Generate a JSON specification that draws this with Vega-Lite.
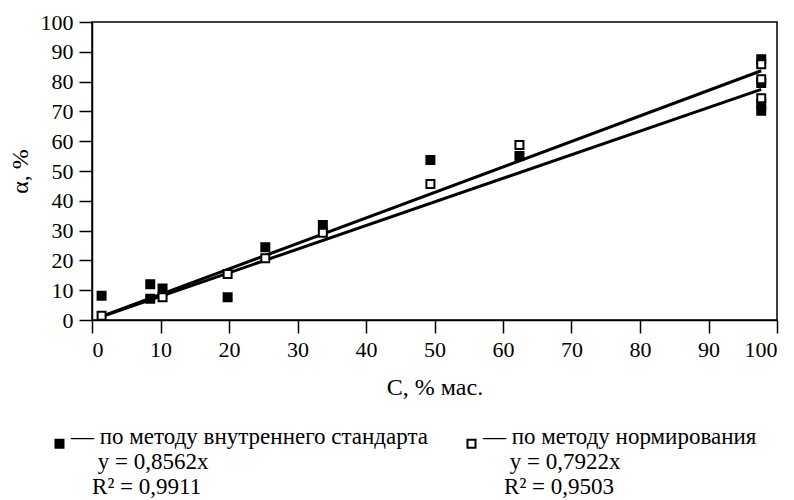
{
  "$schema": "https://vega.github.io/schema/vega-lite/v6.json",
  "width": 685,
  "height": 298,
  "autosize": {"type": "none"},
  "padding": {"left": 92, "top": 22, "right": 17, "bottom": 180},
  "background": "white",
  "config": {
    "font": "Liberation Serif",
    "view": {"stroke": "black", "strokeWidth": 1.5},
    "axis": {
      "domainColor": "black", "domainWidth": 1.5,
      "tickColor": "black", "tickWidth": 1.5, "tickSize": 13,
      "labelFont": "Liberation Serif", "labelFontSize": 22, "labelColor": "black", "labelPadding": 6,
      "labelOverlap": false,
      "grid": false,
      "titleFont": "Liberation Serif", "titleFontSize": 24, "titleFontWeight": "normal", "titleColor": "black"
    }
  },
  "datasets": {
    "points": [
      {"series": "по методу внутреннего стандарта", "C": 1.4, "alpha": 8.1},
      {"series": "по методу внутреннего стандарта", "C": 8.5, "alpha": 12.0},
      {"series": "по методу внутреннего стандарта", "C": 8.5, "alpha": 7.1},
      {"series": "по методу внутреннего стандарта", "C": 10.3, "alpha": 10.6},
      {"series": "по методу внутреннего стандарта", "C": 19.8, "alpha": 7.6},
      {"series": "по методу внутреннего стандарта", "C": 25.3, "alpha": 24.4},
      {"series": "по методу внутреннего стандарта", "C": 33.7, "alpha": 31.9},
      {"series": "по методу внутреннего стандарта", "C": 49.4, "alpha": 53.7},
      {"series": "по методу внутреннего стандарта", "C": 62.4, "alpha": 55.0},
      {"series": "по методу внутреннего стандарта", "C": 97.7, "alpha": 87.5},
      {"series": "по методу внутреннего стандарта", "C": 97.7, "alpha": 79.5},
      {"series": "по методу внутреннего стандарта", "C": 97.7, "alpha": 72.5},
      {"series": "по методу внутреннего стандарта", "C": 97.7, "alpha": 70.2},
      {"series": "по методу нормирования", "C": 1.4, "alpha": 1.4},
      {"series": "по методу нормирования", "C": 10.3, "alpha": 7.6},
      {"series": "по методу нормирования", "C": 19.8, "alpha": 15.4},
      {"series": "по методу нормирования", "C": 25.3, "alpha": 20.7},
      {"series": "по методу нормирования", "C": 33.7, "alpha": 29.3},
      {"series": "по методу нормирования", "C": 49.4, "alpha": 45.6},
      {"series": "по методу нормирования", "C": 62.4, "alpha": 58.7},
      {"series": "по методу нормирования", "C": 97.7, "alpha": 85.8},
      {"series": "по методу нормирования", "C": 97.7, "alpha": 80.8},
      {"series": "по методу нормирования", "C": 97.7, "alpha": 74.4}
    ],
    "lines": [
      {"series": "по методу внутреннего стандарта", "C": 1.2, "alpha": 1.03},
      {"series": "по методу внутреннего стандарта", "C": 97.7, "alpha": 83.65},
      {"series": "по методу нормирования", "C": 1.2, "alpha": 0.95},
      {"series": "по методу нормирования", "C": 97.7, "alpha": 77.4}
    ]
  },
  "encoding": {
    "x": {"field": "C", "type": "quantitative", "scale": {"domain": [0, 100], "nice": false, "zero": false},
          "axis": {"values": [0,10,20,30,40,50,60,70,80,90,100], "title": "C, % мас.", "titlePadding": 15}},
    "y": {"field": "alpha", "type": "quantitative", "scale": {"domain": [0, 100], "nice": false, "zero": false},
          "axis": {"values": [0,10,20,30,40,50,60,70,80,90,100], "title": "α, %", "titlePadding": 8}}
  },
  "layer": [
    {
      "data": {"name": "lines"},
      "mark": {"type": "line", "color": "black", "strokeWidth": 3},
      "encoding": {
        "detail": {"field": "series", "type": "nominal"}
      }
    },
    {
      "data": {"name": "points"},
      "mark": {"type": "point", "shape": "square", "filled": true, "stroke": "black", "strokeWidth": 2, "size": 64, "opacity": 1},
      "encoding": {
        "fill": {
          "field": "series", "type": "nominal",
          "scale": {"domain": ["по методу внутреннего стандарта", "по методу нормирования"], "range": ["black", "white"]},
          "legend": {
            "orient": "none", "legendX": -44, "legendY": 410,
            "direction": "horizontal", "columns": 2, "title": null,
            "symbolType": "square", "symbolSize": 64, "symbolStrokeColor": "black", "symbolStrokeWidth": 2,
            "labelFont": "Liberation Serif", "labelFontSize": 23, "labelColor": "black", "labelLimit": 0,
            "labelBaseline": "alphabetic", "labelOffset": 0, "columnPadding": 32,
            "labelExpr": "datum.label == 'по методу внутреннего стандарта' ? ['— по методу внутреннего стандарта', '\u200b\u00a0\u00a0\u00a0\u00a0\u2006y = 0,8562x', '\u200b\u00a0\u00a0\u00a0\u2006R² = 0,9911'] : ['— по методу нормирования', '\u200b\u00a0\u00a0\u00a0\u00a0\u2006y = 0,7922x', '\u200b\u00a0\u00a0\u00a0\u2006R² = 0,9503']"
          }
        }
      }
    }
  ]
}
